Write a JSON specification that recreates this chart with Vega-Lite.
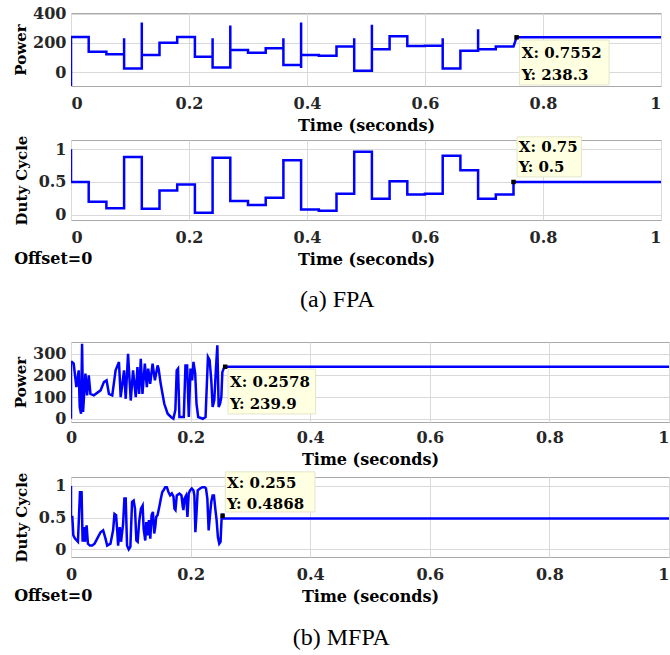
{
  "$schema": "https://vega.github.io/schema/vega-lite/v6.json",
  "padding": {"left": 13, "top": 5, "right": 2, "bottom": 0},
  "config": {
    "font": "DejaVu Serif",
    "view": {"stroke": "#a8a8a8", "strokeWidth": 1},
    "axis": {"labelFont": "DejaVu Serif", "labelFontWeight": "bold", "labelFontSize": 16, "labelColor": "#262626", "titleFont": "DejaVu Serif", "titleFontWeight": "bold", "titleFontSize": 16, "titleColor": "#000000", "gridColor": "#d9d9d9", "gridWidth": 1, "domain": false, "ticks": false, "labelPadding": 5, "labelOverlap": false, "tickCount": 12},
    "axisY": {"titleFontSize": 15}
  },
  "datasets": {
    "fpaP": [{"t":0,"v":-100},{"t":0,"v":240},{"t":0.03,"v":240},{"t":0.03,"v":140},{"t":0.06,"v":140},{"t":0.06,"v":122},{"t":0.09,"v":122},{"t":0.09,"v":232},{"t":0.09,"v":25},{"t":0.12,"v":25},{"t":0.12,"v":340},{"t":0.12,"v":117},{"t":0.15,"v":117},{"t":0.15,"v":202},{"t":0.18,"v":202},{"t":0.18,"v":240},{"t":0.21,"v":240},{"t":0.21,"v":106},{"t":0.24,"v":106},{"t":0.24,"v":232},{"t":0.24,"v":32},{"t":0.27,"v":32},{"t":0.27,"v":319},{"t":0.27,"v":152},{"t":0.30,"v":152},{"t":0.30,"v":133},{"t":0.33,"v":133},{"t":0.33,"v":163},{"t":0.36,"v":163},{"t":0.36,"v":232},{"t":0.36,"v":48},{"t":0.39,"v":48},{"t":0.39,"v":340},{"t":0.39,"v":28},{"t":0.39,"v":117},{"t":0.42,"v":117},{"t":0.42,"v":113},{"t":0.45,"v":113},{"t":0.45,"v":175},{"t":0.48,"v":175},{"t":0.48,"v":232},{"t":0.48,"v":10},{"t":0.51,"v":10},{"t":0.51,"v":324},{"t":0.51,"v":157},{"t":0.54,"v":157},{"t":0.54,"v":245},{"t":0.57,"v":245},{"t":0.57,"v":179},{"t":0.60,"v":179},{"t":0.60,"v":181},{"t":0.63,"v":181},{"t":0.63,"v":232},{"t":0.63,"v":25},{"t":0.66,"v":25},{"t":0.66,"v":147},{"t":0.69,"v":147},{"t":0.69,"v":294},{"t":0.69,"v":157},{"t":0.72,"v":157},{"t":0.72,"v":175},{"t":0.75,"v":175},{"t":0.7552,"v":238.3},{"t":1,"v":238.3}],
    "fpaD": [{"t":0,"v":1},{"t":0,"v":0.5},{"t":0.03,"v":0.5},{"t":0.03,"v":0.2},{"t":0.06,"v":0.2},{"t":0.06,"v":0.1},{"t":0.09,"v":0.1},{"t":0.09,"v":0.88},{"t":0.12,"v":0.88},{"t":0.12,"v":0.09},{"t":0.15,"v":0.09},{"t":0.15,"v":0.37},{"t":0.18,"v":0.37},{"t":0.18,"v":0.46},{"t":0.21,"v":0.46},{"t":0.21,"v":0.03},{"t":0.24,"v":0.03},{"t":0.24,"v":0.87},{"t":0.27,"v":0.87},{"t":0.27,"v":0.21},{"t":0.30,"v":0.21},{"t":0.30,"v":0.15},{"t":0.33,"v":0.15},{"t":0.33,"v":0.26},{"t":0.36,"v":0.26},{"t":0.36,"v":0.83},{"t":0.39,"v":0.83},{"t":0.39,"v":0.08},{"t":0.42,"v":0.08},{"t":0.42,"v":0.06},{"t":0.45,"v":0.06},{"t":0.45,"v":0.32},{"t":0.48,"v":0.32},{"t":0.48,"v":0.96},{"t":0.51,"v":0.96},{"t":0.51,"v":0.245},{"t":0.54,"v":0.245},{"t":0.54,"v":0.51},{"t":0.57,"v":0.51},{"t":0.57,"v":0.31},{"t":0.60,"v":0.31},{"t":0.60,"v":0.32},{"t":0.63,"v":0.32},{"t":0.63,"v":0.90},{"t":0.66,"v":0.90},{"t":0.66,"v":0.68},{"t":0.69,"v":0.68},{"t":0.69,"v":0.245},{"t":0.72,"v":0.245},{"t":0.72,"v":0.31},{"t":0.75,"v":0.31},{"t":0.75,"v":0.5},{"t":1,"v":0.5}],
    "mfpaP": [{"t":0,"v":0},{"t":0,"v":262},{"t":0.0017,"v":262},{"t":0.0045,"v":254},{"t":0.009,"v":146},{"t":0.0129,"v":223},{"t":0.0146,"v":54},{"t":0.0168,"v":23},{"t":0.0185,"v":346},{"t":0.0202,"v":31},{"t":0.0241,"v":208},{"t":0.0269,"v":108},{"t":0.0297,"v":200},{"t":0.0325,"v":115},{"t":0.0382,"v":108},{"t":0.0494,"v":131},{"t":0.055,"v":169},{"t":0.0595,"v":177},{"t":0.0634,"v":115},{"t":0.069,"v":108},{"t":0.0746,"v":223},{"t":0.0802,"v":262},{"t":0.0831,"v":100},{"t":0.0887,"v":223},{"t":0.0915,"v":92},{"t":0.0954,"v":300},{"t":0.0999,"v":84},{"t":0.1038,"v":223},{"t":0.1083,"v":100},{"t":0.1111,"v":238},{"t":0.1139,"v":115},{"t":0.1167,"v":277},{"t":0.1195,"v":115},{"t":0.1235,"v":254},{"t":0.1268,"v":146},{"t":0.1291,"v":231},{"t":0.1324,"v":161},{"t":0.1364,"v":254},{"t":0.1403,"v":177},{"t":0.1448,"v":246},{"t":0.1465,"v":231},{"t":0.150,"v":161},{"t":0.156,"v":69},{"t":0.1616,"v":23},{"t":0.1672,"v":8},{"t":0.1712,"v":0},{"t":0.1745,"v":40},{"t":0.1768,"v":223},{"t":0.179,"v":231},{"t":0.1813,"v":8},{"t":0.1886,"v":8},{"t":0.1914,"v":246},{"t":0.1942,"v":246},{"t":0.197,"v":8},{"t":0.1998,"v":231},{"t":0.2026,"v":177},{"t":0.2048,"v":262},{"t":0.2077,"v":208},{"t":0.2099,"v":69},{"t":0.2127,"v":8},{"t":0.2205,"v":0},{"t":0.225,"v":8},{"t":0.229,"v":285},{"t":0.2318,"v":270},{"t":0.2346,"v":177},{"t":0.2368,"v":54},{"t":0.2396,"v":85},{"t":0.2424,"v":231},{"t":0.2447,"v":339},{"t":0.2469,"v":54},{"t":0.2492,"v":69},{"t":0.2514,"v":100},{"t":0.2531,"v":215},{"t":0.2553,"v":231},{"t":0.2578,"v":239.9},{"t":1,"v":239.9}],
    "mfpaD": [{"t":0,"v":1.0},{"t":0,"v":0.51},{"t":0.0022,"v":0.51},{"t":0.0039,"v":0.22},{"t":0.0067,"v":0.17},{"t":0.0116,"v":0.12},{"t":0.015,"v":0.9},{"t":0.0177,"v":0.9},{"t":0.0194,"v":0.12},{"t":0.0216,"v":0.35},{"t":0.0233,"v":0.12},{"t":0.0261,"v":0.38},{"t":0.0283,"v":0.09},{"t":0.0316,"v":0.06},{"t":0.0355,"v":0.06},{"t":0.0394,"v":0.09},{"t":0.0438,"v":0.17},{"t":0.0494,"v":0.27},{"t":0.0538,"v":0.3},{"t":0.0577,"v":0.17},{"t":0.0605,"v":0.06},{"t":0.066,"v":0.09},{"t":0.0704,"v":0.3},{"t":0.0727,"v":0.56},{"t":0.0754,"v":0.54},{"t":0.0771,"v":0.32},{"t":0.0788,"v":0.06},{"t":0.0815,"v":0.35},{"t":0.0837,"v":0.12},{"t":0.0871,"v":0.4},{"t":0.0893,"v":0.8},{"t":0.0915,"v":0.8},{"t":0.0937,"v":0.06},{"t":0.0965,"v":0.0},{"t":0.0993,"v":0.04},{"t":0.1021,"v":0.75},{"t":0.1048,"v":0.77},{"t":0.107,"v":0.64},{"t":0.1093,"v":0.14},{"t":0.1115,"v":0.12},{"t":0.1143,"v":0.46},{"t":0.117,"v":0.64},{"t":0.1198,"v":0.69},{"t":0.1215,"v":0.32},{"t":0.1242,"v":0.14},{"t":0.1259,"v":0.43},{"t":0.1281,"v":0.22},{"t":0.1303,"v":0.46},{"t":0.1326,"v":0.17},{"t":0.1348,"v":0.54},{"t":0.137,"v":0.59},{"t":0.1392,"v":0.25},{"t":0.1409,"v":0.35},{"t":0.1425,"v":0.51},{"t":0.1448,"v":0.54},{"t":0.1481,"v":0.69},{"t":0.1503,"v":0.8},{"t":0.1525,"v":0.9},{"t":0.1547,"v":0.93},{"t":0.1575,"v":0.98},{"t":0.1603,"v":0.98},{"t":0.1631,"v":0.9},{"t":0.1658,"v":0.85},{"t":0.1686,"v":0.88},{"t":0.1714,"v":0.83},{"t":0.173,"v":0.64},{"t":0.1747,"v":0.62},{"t":0.1769,"v":0.85},{"t":0.1814,"v":0.88},{"t":0.1847,"v":0.85},{"t":0.1869,"v":0.67},{"t":0.188,"v":0.62},{"t":0.1897,"v":0.8},{"t":0.1925,"v":0.85},{"t":0.1947,"v":0.51},{"t":0.1969,"v":0.88},{"t":0.1991,"v":0.93},{"t":0.2019,"v":0.96},{"t":0.2047,"v":0.93},{"t":0.2063,"v":0.85},{"t":0.208,"v":0.27},{"t":0.2097,"v":0.54},{"t":0.2119,"v":0.93},{"t":0.2158,"v":0.96},{"t":0.2196,"v":0.98},{"t":0.2235,"v":0.98},{"t":0.2257,"v":0.96},{"t":0.228,"v":0.8},{"t":0.2302,"v":0.3},{"t":0.2324,"v":0.54},{"t":0.2346,"v":0.75},{"t":0.2368,"v":0.85},{"t":0.239,"v":0.85},{"t":0.2413,"v":0.64},{"t":0.2435,"v":0.46},{"t":0.2457,"v":0.19},{"t":0.2479,"v":0.09},{"t":0.2501,"v":0.12},{"t":0.2518,"v":0.48},{"t":0.2535,"v":0.56},{"t":0.255,"v":0.4868},{"t":1,"v":0.4868}]
  },
  "spacing": 29,
  "vconcat": [
    {
      "title": {"text": "(a) FPA", "orient": "bottom", "anchor": "middle", "frame": "bounds", "offset": 20, "baseline": "top", "font": "Liberation Serif", "fontSize": 24, "fontWeight": "normal", "color": "#000000"},
      "spacing": 0,
      "vconcat": [
        {
          "width": 590, "height": 73,
          "layer": [
            {"data": {"name": "fpaP"}, "mark": {"type": "line", "color": "#0000ff", "strokeWidth": 2.5, "clip": true},
             "encoding": {
               "x": {"field": "t", "type": "quantitative", "scale": {"domain": [0, 1], "nice": false}, "axis": {"values": [0,0.2,0.4,0.6,0.8,1], "tickCount": 12, "format": "~r", "labelPadding": 9, "titlePadding": 6}, "title": "Time (seconds)"},
               "y": {"field": "v", "type": "quantitative", "scale": {"domain": [-95, 405], "nice": false, "zero": false}, "axis": {"values": [0,200,400], "tickCount": 12, "format": "~r", "titlePadding": 4, "labelOverlap": false}, "title": "Power"},
               "order": {"value": null}}},
            {"data": {"values": [{}]}, "mark": {"type": "rect", "fill": "#ffffe1", "stroke": "#e4e4cc", "strokeWidth": 1},
             "encoding": {"x": {"datum": 0.760}, "x2": {"datum": 0.912}, "y": {"datum": 220}, "y2": {"datum": -88}}},
            {"data": {"values": [{}]}, "mark": {"type": "text", "font": "DejaVu Serif", "fontWeight": "bold", "fontSize": 15, "align": "left", "baseline": "middle", "lineHeight": 22, "color": "#000000"},
             "encoding": {"x": {"datum": 0.764}, "y": {"datum": 131}, "text": {"value": ["X: 0.7552", "Y: 238.3"]}}},
            {"data": {"values": [{}]}, "mark": {"type": "point", "shape": "square", "filled": true, "color": "#000000", "size": 20, "opacity": 1},
             "encoding": {"x": {"datum": 0.7552}, "y": {"datum": 238.3}}}
          ]
        },
        {
          "width": 590, "height": 80,
          "title": {"text": "Offset=0", "orient": "bottom", "anchor": "start", "frame": "bounds", "offset": -16, "baseline": "top", "font": "DejaVu Serif", "fontSize": 16, "fontWeight": "bold", "color": "#000000"},
          "layer": [
            {"data": {"name": "fpaD"}, "mark": {"type": "line", "color": "#0000ff", "strokeWidth": 2.5, "clip": true},
             "encoding": {
               "x": {"field": "t", "type": "quantitative", "scale": {"domain": [0, 1], "nice": false}, "axis": {"values": [0,0.2,0.4,0.6,0.8,1], "tickCount": 12, "format": "~r", "labelPadding": 9, "titlePadding": 6}, "title": "Time (seconds)"},
               "y": {"field": "v", "type": "quantitative", "scale": {"domain": [-0.08, 1.14], "nice": false, "zero": false}, "axis": {"values": [0,0.5,1], "tickCount": 12, "format": "~r", "titlePadding": 9, "labelOverlap": false}, "title": "Duty Cycle"},
               "order": {"value": null}}},
            {"data": {"values": [{}]}, "mark": {"type": "rect", "fill": "#ffffe1", "stroke": "#e4e4cc", "strokeWidth": 1},
             "encoding": {"x": {"datum": 0.756}, "x2": {"datum": 0.865}, "y": {"datum": 1.188}, "y2": {"datum": 0.577}}},
            {"data": {"values": [{}]}, "mark": {"type": "text", "font": "DejaVu Serif", "fontWeight": "bold", "fontSize": 15, "align": "left", "baseline": "middle", "lineHeight": 20, "color": "#000000"},
             "encoding": {"x": {"datum": 0.759}, "y": {"datum": 1.033}, "text": {"value": ["X: 0.75", "Y: 0.5"]}}},
            {"data": {"values": [{}]}, "mark": {"type": "point", "shape": "square", "filled": true, "color": "#000000", "size": 20, "opacity": 1},
             "encoding": {"x": {"datum": 0.75}, "y": {"datum": 0.5}}}
          ]
        }
      ]
    },
    {
      "title": {"text": "(b) MFPA", "orient": "bottom", "anchor": "middle", "frame": "bounds", "offset": 21, "baseline": "top", "font": "Liberation Serif", "fontSize": 24, "fontWeight": "normal", "color": "#000000"},
      "spacing": 2,
      "vconcat": [
        {
          "width": 598, "height": 80,
          "layer": [
            {"data": {"name": "mfpaP"}, "mark": {"type": "line", "color": "#0000ff", "strokeWidth": 2.5, "clip": true},
             "encoding": {
               "x": {"field": "t", "type": "quantitative", "scale": {"domain": [0, 1], "nice": false}, "axis": {"values": [0,0.2,0.4,0.6,0.8,1], "tickCount": 12, "format": "~r", "labelPadding": 7, "titlePadding": 6, "labelAlign": {"condition": {"test": "datum.value == 1", "value": "right"}, "value": "center"}}, "title": "Time (seconds)"},
               "y": {"field": "v", "type": "quantitative", "scale": {"domain": [-15, 354], "nice": false, "zero": false}, "axis": {"values": [0,100,200,300], "tickCount": 12, "format": "~r", "titlePadding": 4, "labelOverlap": false}, "title": "Power"},
               "order": {"value": null}}},
            {"data": {"values": [{}]}, "mark": {"type": "rect", "fill": "#ffffe1", "stroke": "#e4e4cc", "strokeWidth": 1},
             "encoding": {"x": {"datum": 0.2626}, "x2": {"datum": 0.409}, "y": {"datum": 229}, "y2": {"datum": 22}}},
            {"data": {"values": [{}]}, "mark": {"type": "text", "font": "DejaVu Serif", "fontWeight": "bold", "fontSize": 15, "align": "left", "baseline": "middle", "lineHeight": 22, "color": "#000000"},
             "encoding": {"x": {"datum": 0.266}, "y": {"datum": 169.5}, "text": {"value": ["X: 0.2578", "Y: 239.9"]}}},
            {"data": {"values": [{}]}, "mark": {"type": "point", "shape": "square", "filled": true, "color": "#000000", "size": 20, "opacity": 1},
             "encoding": {"x": {"datum": 0.2578}, "y": {"datum": 239.9}}}
          ]
        },
        {
          "width": 598, "height": 80,
          "title": {"text": "Offset=0", "orient": "bottom", "anchor": "start", "frame": "bounds", "offset": -16, "baseline": "top", "font": "DejaVu Serif", "fontSize": 16, "fontWeight": "bold", "color": "#000000"},
          "layer": [
            {"data": {"name": "mfpaD"}, "mark": {"type": "line", "color": "#0000ff", "strokeWidth": 2.5, "clip": true},
             "encoding": {
               "x": {"field": "t", "type": "quantitative", "scale": {"domain": [0, 1], "nice": false}, "axis": {"values": [0,0.2,0.4,0.6,0.8,1], "tickCount": 12, "format": "~r", "labelPadding": 9, "titlePadding": 6, "labelAlign": {"condition": {"test": "datum.value == 1", "value": "right"}, "value": "center"}}, "title": "Time (seconds)"},
               "y": {"field": "v", "type": "quantitative", "scale": {"domain": [-0.12, 1.14], "nice": false, "zero": false}, "axis": {"values": [0,0.5,1], "tickCount": 12, "format": "~r", "titlePadding": 9, "labelOverlap": false}, "title": "Duty Cycle"},
               "order": {"value": null}}},
            {"data": {"values": [{}]}, "mark": {"type": "rect", "fill": "#ffffe1", "stroke": "#e4e4cc", "strokeWidth": 1},
             "encoding": {"x": {"datum": 0.258}, "x2": {"datum": 0.408}, "y": {"datum": 1.221}, "y2": {"datum": 0.589}}},
            {"data": {"values": [{}]}, "mark": {"type": "text", "font": "DejaVu Serif", "fontWeight": "bold", "fontSize": 15, "align": "left", "baseline": "middle", "lineHeight": 21, "color": "#000000"},
             "encoding": {"x": {"datum": 0.261}, "y": {"datum": 1.046}, "text": {"value": ["X: 0.255", "Y: 0.4868"]}}},
            {"data": {"values": [{}]}, "mark": {"type": "point", "shape": "square", "filled": true, "color": "#000000", "size": 20, "opacity": 1},
             "encoding": {"x": {"datum": 0.2535}, "y": {"datum": 0.53}}}
          ]
        }
      ]
    }
  ]
}
